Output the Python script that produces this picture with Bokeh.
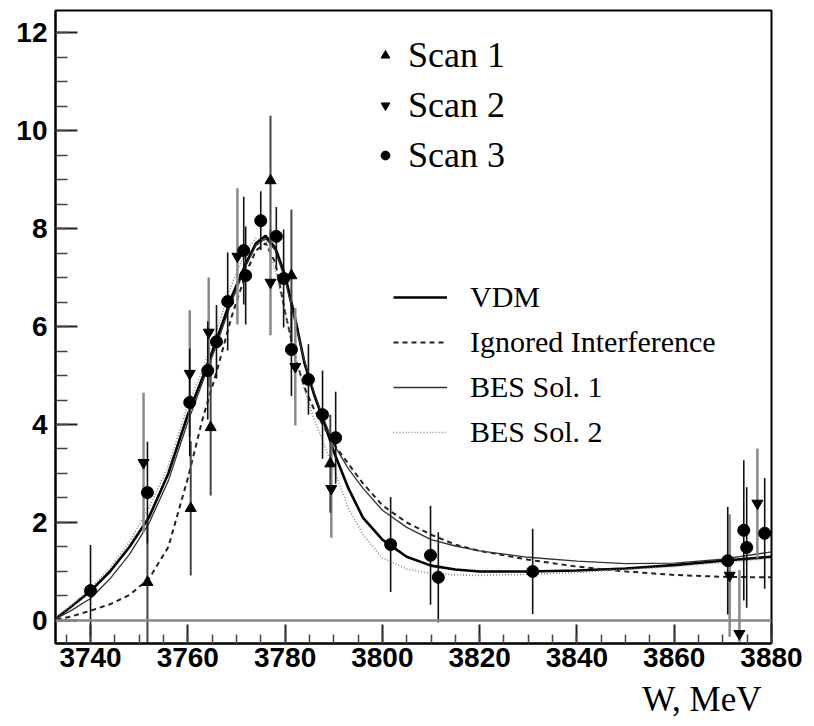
from bokeh.plotting import figure
from bokeh.embed import file_html
from bokeh.resources import INLINE
from bokeh.models import (Range1d, SingleIntervalTicker, Span, Legend, LegendItem,
                          Title, ColumnDataSource)

# ---- data ----
scan1_x = [3751.7, 3760.6, 3764.7, 3777.0, 3781.3, 3789.3]
scan1_y = [0.78, 2.29, 3.94, 8.98, 7.04, 3.2]
scan1_err = [1.3, 1.37, 1.39, 1.32, 1.35, 1.0]

scan2_x = [3750.9, 3760.4, 3764.3, 3770.2, 3777.0, 3782.1, 3789.5, 3871.4, 3873.4, 3877.1]
scan2_y = [3.22, 5.04, 5.88, 7.43, 6.9, 5.18, 2.69, 0.92, -0.27, 2.39]
scan2_err = [1.43, 1.29, 1.12, 1.39, 1.08, 1.2, 1.0, 1.25, 1.3, 1.12]

scan3_x = [3740.0, 3751.7, 3760.4, 3764.1, 3765.9, 3768.2, 3771.5, 3771.9, 3775.0, 3778.2,
           3779.7, 3781.3, 3784.8, 3787.7, 3790.4, 3801.7, 3809.9, 3811.5, 3830.9, 3871.0,
           3874.3, 3874.9, 3878.6]
scan3_y = [0.61, 2.61, 4.45, 5.10, 5.69, 6.51, 7.55, 7.04, 8.16, 7.84,
           6.98, 5.53, 4.92, 4.2, 3.73, 1.55, 1.33, 0.88, 1.0, 1.22,
           1.84, 1.49, 1.78]
scan3_err = [0.93, 1.04, 1.1, 1.0, 0.75, 1.0, 1.1, 1.0, 0.6, 0.6,
             1.0, 0.95, 0.72, 0.9, 0.94, 0.97, 1.01, 0.92, 0.87, 1.1,
             1.43, 1.23, 1.13]

curve_x = [3733, 3736, 3740, 3744, 3748, 3752, 3756, 3760, 3763, 3766, 3769, 3772, 3774, 3776,
           3778, 3780, 3782, 3784, 3786, 3788, 3790, 3793, 3796, 3800, 3805, 3810, 3815, 3820,
           3830, 3840, 3850, 3860, 3870, 3880]
vdm = [0.05, 0.28, 0.6, 1.0, 1.5, 2.1, 3.0, 4.2, 4.95, 5.75, 6.6, 7.3, 7.7, 7.85,
       7.6, 7.05, 6.2, 5.25, 4.6, 4.05, 3.45, 2.7, 2.1, 1.65, 1.3, 1.12, 1.04, 1.0,
       1.0, 1.02, 1.06, 1.13, 1.22, 1.3]
ignored = [0.02, 0.08, 0.2, 0.33, 0.52, 0.85, 1.5, 2.9, 4.1, 5.1, 6.2, 7.1, 7.55, 7.7,
           7.3, 6.3, 5.4, 4.75, 4.3, 3.95, 3.6, 3.2, 2.8, 2.35, 2.0, 1.75, 1.55, 1.42,
           1.24, 1.1, 1.0, 0.93, 0.89, 0.88]
bes1 = [0.04, 0.2, 0.45, 0.85, 1.35, 1.98, 2.85, 4.05, 4.85, 5.65, 6.5, 7.25, 7.65, 7.8,
        7.55, 6.95, 6.1, 5.3, 4.65, 4.1, 3.6, 3.1, 2.7, 2.25, 1.9, 1.65, 1.52, 1.42,
        1.29, 1.21, 1.16, 1.17, 1.25, 1.4]
bes2 = [0.07, 0.3, 0.65, 1.07, 1.6, 2.3, 3.15, 4.4, 5.1, 5.95, 6.85, 7.55, 7.8, 7.75,
        7.15, 6.3, 5.4, 4.7, 4.1, 3.6, 3.1, 2.3, 1.75, 1.28, 1.05, 0.96, 0.93, 0.92,
        0.94, 0.98, 1.04, 1.1, 1.18, 1.27]

x_ticks_interval = 20
y_ticks_interval = 2

p = figure(width=814, height=726, x_range=Range1d(3732.8, 3880), y_range=Range1d(-0.47, 12.45),
           output_backend="svg", toolbar_location=None,
           min_border_left=55, min_border_right=43, min_border_top=10, min_border_bottom=83)
p.background_fill_color = "white"
p.border_fill_color = "white"
p.xgrid.visible = False
p.ygrid.visible = False
p.outline_line_color = "black"
p.outline_line_width = 2

p.xaxis.ticker = SingleIntervalTicker(interval=x_ticks_interval, num_minor_ticks=4)
p.yaxis.ticker = SingleIntervalTicker(interval=y_ticks_interval, num_minor_ticks=4)
for ax in (p.xaxis, p.yaxis):
    ax.axis_line_width = 2
    ax.axis_line_color = "black"
    ax.major_tick_out = 0
    ax.minor_tick_out = 0
    ax.major_tick_line_width = 2
    ax.minor_tick_line_width = 1.5
    ax.major_tick_line_color = "#222222"
    ax.minor_tick_line_color = "#444444"
    ax.major_label_text_font = "Liberation Sans"
    ax.major_label_text_font_style = "bold"
    ax.major_label_text_font_size = "28px"
    ax.major_label_text_color = "black"
p.xaxis.major_tick_in = 19
p.xaxis.minor_tick_in = 9
p.yaxis.major_tick_in = 22
p.yaxis.minor_tick_in = 12
p.xaxis.major_label_standoff = 4
p.yaxis.major_label_standoff = 8

p.add_layout(Span(location=0, dimension="width", line_color="#888888", line_width=2.5))

# curves
r_vdm = p.line(curve_x, vdm, line_color="black", line_width=2.6)
r_ign = p.line(curve_x, ignored, line_color="#222222", line_width=2, line_dash="5 4")
r_b1 = p.line(curve_x, bes1, line_color="#333333", line_width=1.3)
r_b2 = p.line(curve_x, bes2, line_color="#888888", line_width=1.6, line_dash="1 2")

def errsrc(xs, ys, es):
    return ColumnDataSource(dict(x=xs, y=ys,
                                 lo=[a - b for a, b in zip(ys, es)],
                                 hi=[a + b for a, b in zip(ys, es)]))

s1 = errsrc(scan1_x, scan1_y, scan1_err)
s2 = errsrc(scan2_x, scan2_y, scan2_err)
s3 = errsrc(scan3_x, scan3_y, scan3_err)

p.segment(x0="x", y0="lo", x1="x", y1="hi", source=s2, line_color="#8a8a8a", line_width=2.5)
p.segment(x0="x", y0="lo", x1="x", y1="hi", source=s1, line_color="#444444", line_width=2)
p.segment(x0="x", y0="lo", x1="x", y1="hi", source=s3, line_color="#111111", line_width=1.6)

m1 = p.scatter("x", "y", source=s1, marker="triangle", size=11, fill_color="black", line_color="black")
m2 = p.scatter("x", "y", source=s2, marker="inverted_triangle", size=11, fill_color="black", line_color="black")
m3 = p.scatter("x", "y", source=s3, marker="circle", size=12, fill_color="black", line_color="black")

leg1 = Legend(items=[LegendItem(label="Scan 1", renderers=[m1]),
                     LegendItem(label="Scan 2", renderers=[m2]),
                     LegendItem(label="Scan 3", renderers=[m3])],
              location=(319, 467), glyph_width=22, glyph_height=40, label_height=40,
              spacing=8, label_standoff=12, padding=0, margin=0,
              label_text_font="Liberation Serif", label_text_font_size="36px",
              label_text_color="black",
              border_line_alpha=0, background_fill_alpha=0)
leg2 = Legend(items=[LegendItem(label="VDM", renderers=[r_vdm]),
                     LegendItem(label="Ignored Interference", renderers=[r_ign]),
                     LegendItem(label="BES Sol. 1", renderers=[r_b1]),
                     LegendItem(label="BES Sol. 2", renderers=[r_b2])],
              location=(338, 193), glyph_width=54, glyph_height=36, label_height=36,
              spacing=9, label_standoff=23, padding=0, margin=0,
              label_text_font="Liberation Serif", label_text_font_size="30px",
              label_text_color="black",
              border_line_alpha=0, background_fill_alpha=0)
p.add_layout(leg1)
p.add_layout(leg2)

p.add_layout(Title(text="W, MeV", align="right", text_font="Liberation Serif",
                   text_font_size="35px", text_font_style="normal", text_color="black",
                   offset=10, standoff=16), "below")

open("out.html", "w").write(file_html(p, INLINE))
